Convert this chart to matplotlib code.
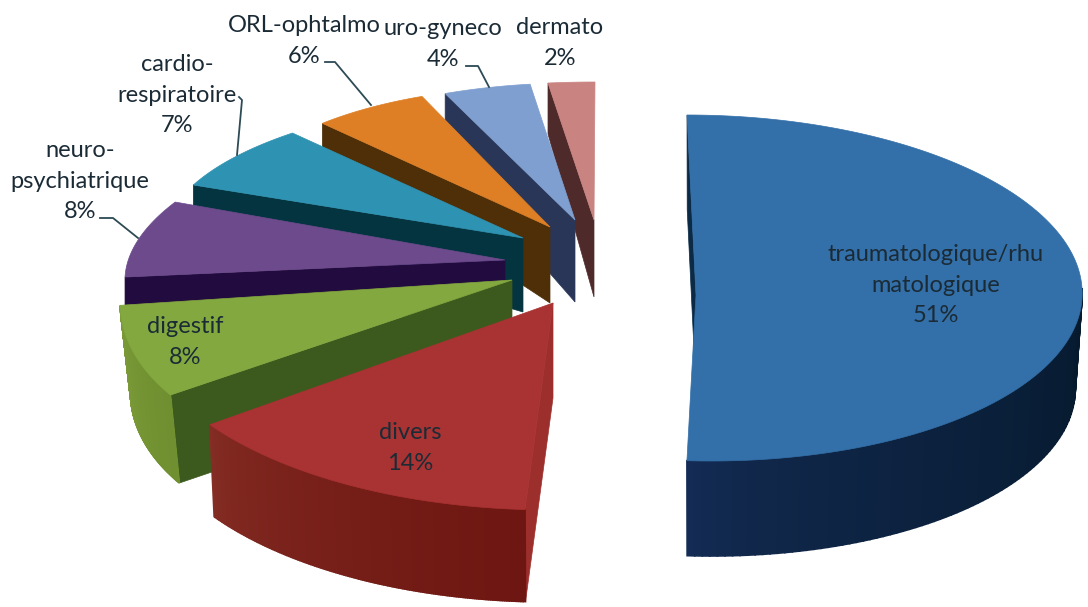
import numpy as np
import matplotlib
matplotlib.use("Agg")
import matplotlib.pyplot as plt
from matplotlib.colors import to_rgb

plt.rcParams["font.family"] = ["Lato", "DejaVu Sans"]

# data, clockwise from 12 o'clock seen from the far side
categories = ["traumatologique/rhu\nmatologique", "divers", "digestif", "neuro-\npsychiatrique",
              "cardio-\nrespiratoire", "ORL-ophtalmo", "uro-gyneco", "dermato"]
values = [51, 14, 8, 8, 7, 6, 4, 2]

# look of each slice, same order
top_colors = ["#336FA8", "#A93232", "#83A83F", "#6C4A8C", "#2E93B3", "#DE7F26", "#7E9FCF", "#C98482"]
wall_colors = ["#0B2A45", "#9C2F2C", "#3C5A1E", "#220B3E", "#04343F", "#4E2F08", "#2A3658", "#4F2A2A"]
outer_from = ["#142C55", "#852E25", "#82A03C", None, None, None, None, None]
outer_to = ["#061A2E", "#6E1611", "#6F8F30", None, None, None, None, None]

# the original has perspective, so every slice gets its own ellipse
centers = [(699, 288), (566, 303), (513, 281), (499, 258), (569, 238), (538, 221), (574, 233), (595, 212)]
radii = [(383, 173), (430, 207), (390, 194), (370, 152), (404, 144), (315, 134), (350, 150), (375, 130)]
shear = [-12, 14, 46, 55, 0, 0, 0, 0]
shrink = [0.018, 0.012, 0.026, 0.0, 0.0, 0.0, 0.0, 0.0]
apexes = [(696, 295), (553, 303), (512, 280), (505, 260), (523, 238), (550, 227), (575, 220), (594, 220)]
rim_depth = [95, 92, 88, 30, 30, 30, 60, 51]
apex_depth = [95, 95, 90, 60, 74, 76, 82, 77]

label_pos = [(936, 285), (410, 448), (185, 342), (80, 181), (177, 95), (304, 41), (443, 44), (560, 43)]
label_color = "#1B2B36"

leaders = [[(100, 218), (113, 218), (138, 238)],
           [(239, 97), (242, 100), (237, 155)],
           [(325, 62), (335, 62), (371, 105)],
           [(466, 66), (478, 66), (489, 87)]]

fig = plt.figure(figsize=(10.88, 6.07), dpi=100)
ax = fig.add_axes([0, 0, 1, 1])
ax.set_xlim(0, 1088)
ax.set_ylim(607, 0)
ax.axis("off")


def rim(i, t):
    cx, cy = centers[i]
    a, b = radii[i]
    return cx - a * np.sin(t) + shear[i] * np.cos(t), cy - b * np.cos(t)


def rim_low(i, t):
    x, y = rim(i, t)
    return x + (centers[i][0] - x) * shrink[i], y + rim_depth[i]


# angles run counter-clockwise from the top here, dermato first
shares = np.array(values[::-1]) / sum(values) * 2 * np.pi
ends = np.cumsum(shares)[::-1]
starts = ends - shares[::-1]

# far slices first so that the near ones cover them
for i in range(len(values) - 1, -1, -1):
    t1, t2 = starts[i], ends[i]
    ts = np.linspace(t1, t2, 160)

    # flat cut face at the end of the slice
    px, py = apexes[i]
    x, y = rim(i, t2)
    xl, yl = rim_low(i, t2)
    ax.fill([x, xl, px, px], [y, yl, py + apex_depth[i], py], color=wall_colors[i], lw=0.5)

    # curved outer wall, only the part that faces us
    if outer_from[i] is not None:
        front = ts[np.cos(ts) < 0]
        c0, c1 = np.array(to_rgb(outer_from[i])), np.array(to_rgb(outer_to[i]))
        for j in range(len(front) - 1):
            f = (j / max(len(front) - 2, 1)) ** 0.6
            col = c0 + (c1 - c0) * f
            x1, y1 = rim(i, front[j])
            x2, y2 = rim(i, front[j + 1])
            x3, y3 = rim_low(i, front[j + 1])
            x4, y4 = rim_low(i, front[j])
            ax.fill([x1, x2, x3, x4], [y1, y2, y3, y4], color=col, lw=1.2)

    xs, ys = rim(i, ts)
    ax.fill(np.r_[px, xs], np.r_[py, ys], color=top_colors[i], lw=0.5)

for line in leaders:
    ax.plot([p[0] for p in line], [p[1] for p in line], color="#2D4A55", lw=1.3)

for name, v, (x, y) in zip(categories, values, label_pos):
    ax.text(x, y, f"{name}\n{v}%", ha="center", va="center", ma="center",
            fontsize=17, color=label_color, linespacing=1.58)

fig.savefig("out.png", dpi=100)
